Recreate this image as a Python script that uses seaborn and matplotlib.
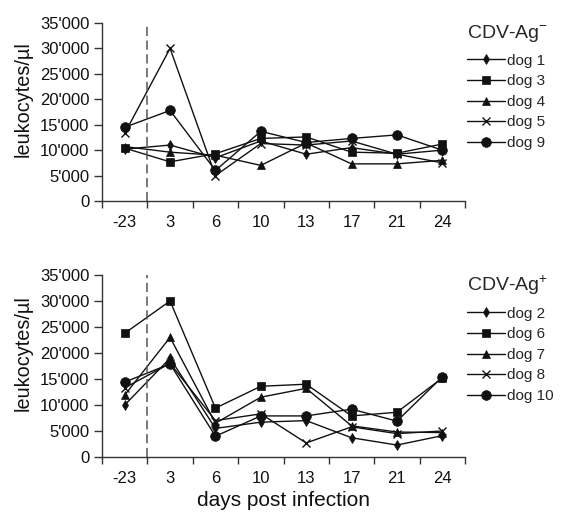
import numpy as np
import pandas as pd
import matplotlib
matplotlib.use("Agg")
import matplotlib.pyplot as plt
from matplotlib.ticker import FuncFormatter, FixedLocator
from matplotlib.lines import Line2D
import seaborn as sns

days = ["-23", "3", "6", "10", "13", "17", "21", "24"]

# CDV-Ag negative dogs
neg_dogs = ["dog 1", "dog 3", "dog 4", "dog 5", "dog 9"]
dog1 = [10200, 11000, 8500, 11800, 9200, 10500, 9200, 10000]
dog3 = [10400, 7700, 9300, 12300, 12600, 9600, 9400, 11200]
dog4 = [10700, 9600, 9000, 7000, 11400, 7300, 7300, 8000]
dog5 = [13300, 30000, 5000, 11300, 11000, 11800, 9200, 7500]
dog9 = [14500, 17800, 6000, 13700, 11500, 12300, 13000, 10000]

# CDV-Ag positive dogs
pos_dogs = ["dog 2", "dog 6", "dog 7", "dog 8", "dog 10"]
dog2 = [10000, 19000, 5500, 6700, 7000, 3700, 2300, 4100]
dog6 = [23800, 30000, 9400, 13600, 14000, 7900, 8600, 15200]
dog7 = [11900, 23000, 6500, 11500, 13200, 6000, 4800, 4700]
dog8 = [13300, 18000, 7000, 8300, 2700, 5800, 4500, 5000]
dog10 = [14400, 17900, 4000, 7900, 7900, 9200, 6900, 15400]

neg_vals = [dog1, dog3, dog4, dog5, dog9]
pos_vals = [dog2, dog6, dog7, dog8, dog10]

marker_list = ["d", "s", "^", "x", "o"]
size_list = [5.5, 5.5, 5.5, 6, 7]

sns.set_style("white")
plt.rcParams["font.family"] = ["Liberation Sans", "DejaVu Sans"]
plt.rcParams["mathtext.fontset"] = "custom"
plt.rcParams["mathtext.rm"] = "Liberation Sans"

AX_COL = "#333333"


def long_table(dogs, vals):
    rows = []
    for d, v in zip(dogs, vals):
        for i, y in enumerate(v):
            rows.append({"pos": i, "day": days[i], "dog": d, "wbc": y})
    return pd.DataFrame(rows)


def draw_panel(ax, dogs, vals, title, leg_top, xlabel=None):
    df = long_table(dogs, vals)
    for d, m, ms in zip(dogs, marker_list, size_list):
        sub = df[df["dog"] == d]
        sns.lineplot(data=sub, x="pos", y="wbc", ax=ax, color="#111111",
                     marker=m, markersize=ms, markeredgecolor="#111111",
                     markerfacecolor="#111111",
                     markeredgewidth=1.0 if m == "x" else 0.5,
                     linewidth=1.0, legend=False)
    ax.set_xlim(-0.5, len(days) - 0.5)
    ax.set_ylim(0, 35000)
    ax.axvline(0.5, color="#555555", linestyle=(0, (6, 3)), linewidth=1.1)
    ax.yaxis.set_major_locator(FixedLocator(np.arange(0, 35001, 5000)))
    ax.yaxis.set_major_formatter(FuncFormatter(
        lambda v, p: "0" if v == 0 else f"{int(v) // 1000}'000"))
    ax.set_xticks(range(len(days)))
    ax.set_xticklabels(days)
    ax.set_xticks(np.arange(-0.5, len(days), 1.0), minor=True)
    ax.tick_params(axis="x", which="major", length=0, labelsize=12, pad=10,
                   labelcolor="#111111")
    ax.tick_params(axis="x", which="minor", length=5, width=1, color=AX_COL,
                   direction="out", bottom=True)
    ax.tick_params(axis="y", length=6, width=1, color=AX_COL,
                   direction="out", left=True, labelsize=12, pad=3,
                   labelcolor="#111111")
    for s in ["top", "right"]:
        ax.spines[s].set_visible(False)
    for s in ["left", "bottom"]:
        ax.spines[s].set_color(AX_COL)
        ax.spines[s].set_linewidth(1)
    ax.set_ylabel("leukocytes/µl", fontsize=14.3, color="#111111")
    ax.yaxis.set_label_coords(-0.19, 0.57)
    if xlabel:
        ax.set_xlabel(xlabel, fontsize=15, labelpad=4, color="#111111")
    else:
        ax.set_xlabel("")
    handles = [Line2D([], [], color="#111111", marker=m, markersize=ms,
                      markeredgewidth=1.0 if m == "x" else 0.5, linewidth=1.0)
               for m, ms in zip(marker_list, size_list)]
    leg = ax.legend(handles, dogs, title=title, loc="upper left",
                    bbox_to_anchor=(467 / 561, leg_top),
                    bbox_transform=fig.transFigure, borderaxespad=0,
                    borderpad=0, frameon=False,
                    fontsize=11, title_fontsize=14, handlelength=2.5,
                    handletextpad=0.15, labelspacing=0.43)
    leg._legend_box.align = "left"
    leg._legend_box.sep = 7


fig = plt.figure(figsize=(5.61, 5.13), dpi=100)
ax1 = fig.add_axes([102 / 561, 1 - 201 / 513, 363 / 561, 178 / 513])
ax2 = fig.add_axes([102 / 561, 1 - 457 / 513, 363 / 561, 182 / 513])

draw_panel(ax1, neg_dogs, neg_vals, "CDV-Ag$^{-}$", 1 - 23 / 513)
draw_panel(ax2, pos_dogs, pos_vals, "CDV-Ag$^{+}$", 1 - 273 / 513,
           "days post infection")

fig.savefig("out.png", dpi=100)
